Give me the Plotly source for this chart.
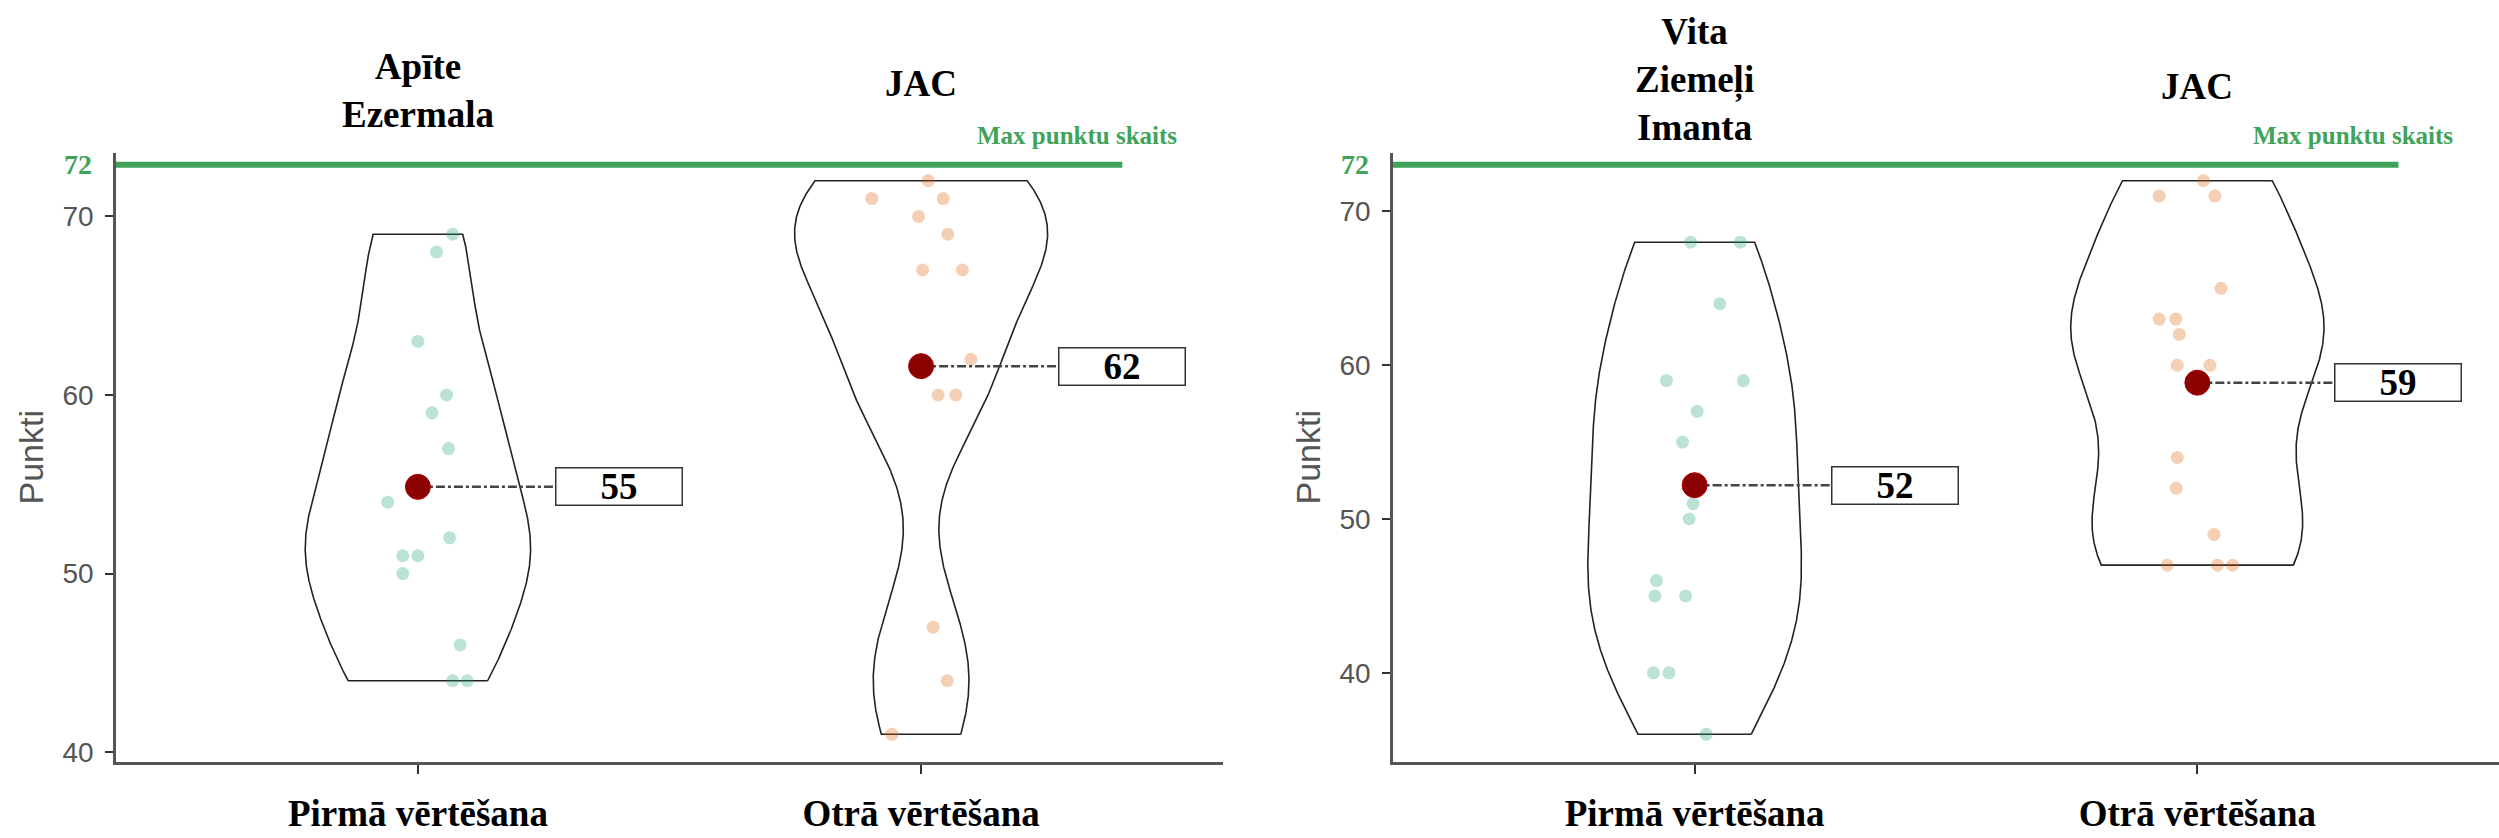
import numpy as np
import plotly.graph_objects as go

# ---------------- data ----------------
CATEGORIES = ["Pirmā vērtēšana", "Otrā vērtēšana"]
LEFT_TITLES = ["Apīte<br>Ezermala", "JAC"]
RIGHT_TITLES = ["Vita<br>Ziemeļi<br>Imanta", "JAC"]
MAX_SCORE = 72
MAX_LABEL = "Max punktu skaits"
Y_TITLE = "Punkti"
Y_TICKS = [40, 50, 60, 70]

APITE_SCORES = [69, 68, 63, 60, 59, 57, 54, 52, 51, 51, 50, 46, 44, 44]
APITE_JITTER = [0.069, 0.037, 0.0, 0.057, 0.028, 0.061, -0.060, 0.063, -0.030, 0.0, -0.030, 0.084, 0.069, 0.098]
JAC1_SCORES = [72, 71, 71, 70, 69, 67, 67, 62, 60, 60, 47, 44, 41]
JAC1_JITTER = [0.014, -0.098, 0.044, -0.005, 0.053, 0.003, 0.082, 0.099, 0.034, 0.069, 0.024, 0.052, -0.058]
VITA_SCORES = [68, 68, 64, 59, 59, 57, 55, 51, 50, 46, 45, 45, 40, 40, 36]
VITA_JITTER = [-0.008, 0.091, 0.050, -0.056, 0.097, 0.005, -0.024, -0.003, -0.011, -0.076, -0.079, -0.018, -0.082, -0.051, 0.023]
JAC2_SCORES = [72, 71, 71, 65, 63, 63, 62, 60, 60, 54, 52, 49, 47, 47, 47]
JAC2_JITTER = [0.012, -0.076, 0.035, 0.047, -0.076, -0.043, -0.036, -0.040, 0.025, -0.040, -0.042, 0.033, -0.060, 0.040, 0.070]

# ---------------- styles ----------------
W, H = 2499, 838
PT_COLORS = ["rgba(27,158,119,0.30)", "rgba(217,95,2,0.30)"]
GREEN = "#3fa35a"
MEAN_COLOR = "#8b0000"
SERIF = "Liberation Serif"
SANS = "Liberation Sans"
AXIS_GREY = "#555555"
VIOLIN_WIDTHS = {"L": [0.448, 0.503], "R": [0.425, 0.504]}
LINE_OFFSET_PX = 16          # max-score line drawn slightly above its tick value
LABEL_LINE_END = 0.273       # end of dash-dot connector (category units)
LABEL_CENTER = 0.399         # centre of value box (category units)

# panel geometry (pixels)
PLOT_TOP, PLOT_BOTTOM = 153, 762
PANELS = {
    "L": dict(x0=116, x1=1223, xa="x", ya="y",
              groups=[(APITE_SCORES, APITE_JITTER), (JAC1_SCORES, JAC1_JITTER)],
              titles=LEFT_TITLES, title_y=[90, 84]),
    "R": dict(x0=1393, x1=2499, xa="x2", ya="y2",
              groups=[(VITA_SCORES, VITA_JITTER), (JAC2_SCORES, JAC2_JITTER)],
              titles=RIGHT_TITLES, title_y=[80, 86]),
}


def nrd0(x):
    x = np.asarray(x, float)
    sd = x.std(ddof=1)
    q75, q25 = np.percentile(x, [75, 25])
    lo = min(sd, (q75 - q25) / 1.34)
    if lo <= 0:
        lo = sd
    return 0.9 * lo * len(x) ** (-0.2)


def violin_path(vals, center, width):
    """Gaussian KDE (bw.nrd0), trimmed to the data range, like ggplot's geom_violin."""
    vals = np.asarray(vals, float)
    bw = nrd0(vals)
    grid = np.linspace(vals.min(), vals.max(), 512)
    dens = np.exp(-0.5 * ((grid[:, None] - vals[None, :]) / bw) ** 2).sum(axis=1)
    half = dens / dens.max() * width / 2
    xs = np.concatenate([center + half, (center - half)[::-1], [center + half[0]]])
    ys = np.concatenate([grid, grid[::-1], [grid[0]]])
    return xs, ys


fig = go.Figure()
annotations = []
shapes = []

for key, p in PANELS.items():
    xa, ya = p["xa"], p["ya"]
    for i, (scores, jit) in enumerate(p["groups"]):
        scores = np.asarray(scores, float)
        vx, vy = violin_path(scores, i, VIOLIN_WIDTHS[key][i])
        fig.add_trace(go.Scatter(
            x=vx, y=vy, xaxis=xa, yaxis=ya, mode="lines",
            line=dict(color="#222222", width=1.6), fill="toself",
            fillcolor="rgba(0,0,0,0)", hoverinfo="skip", showlegend=False))
        fig.add_trace(go.Scatter(
            x=[i + j for j in jit], y=scores, xaxis=xa, yaxis=ya, mode="markers",
            marker=dict(size=13, color=PT_COLORS[i], line=dict(width=0)),
            hoverinfo="skip", showlegend=False))
        m = float(scores.mean())
        fig.add_trace(go.Scatter(
            x=[i, i + LABEL_LINE_END], y=[m, m], xaxis=xa, yaxis=ya, mode="lines",
            line=dict(color="#444444", width=2.5, dash="dashdot"),
            hoverinfo="skip", showlegend=False))
        fig.add_trace(go.Scatter(
            x=[i], y=[m], xaxis=xa, yaxis=ya, mode="markers",
            marker=dict(size=25, color=MEAN_COLOR, line=dict(color="#b00000", width=1)),
            hoverinfo="skip", showlegend=False))
        annotations.append(dict(
            x=i + LABEL_CENTER, y=m, xref=xa, yref=ya, text="<b>%d</b>" % int(round(m)),
            showarrow=False, font=dict(family=SERIF, size=37, color="black"),
            bordercolor="#333333", borderwidth=1.5, bgcolor="white",
            width=125, height=36, borderpad=0, xanchor="center", yanchor="middle"))
        annotations.append(dict(
            x=i, y=1 - p["title_y"][i] / H, xref=xa, yref="paper",
            text="<b>%s</b>" % p["titles"][i], showarrow=False,
            font=dict(family=SERIF, size=37, color="black"),
            xanchor="center", yanchor="middle"))

    # max-score line + labels
    shapes.append(dict(type="line", xref=xa, yref=ya, x0=-0.6, x1=1.4,
                       ysizemode="pixel", yanchor=MAX_SCORE,
                       y0=LINE_OFFSET_PX, y1=LINE_OFFSET_PX,
                       line=dict(color=GREEN, width=6), layer="above"))
    annotations.append(dict(x=0, xref=xa + " domain", y=MAX_SCORE, yref=ya,
                            xshift=-38, yshift=LINE_OFFSET_PX,
                            text="<b>%d</b>" % MAX_SCORE, showarrow=False,
                            font=dict(family=SERIF, size=28, color=GREEN),
                            xanchor="center", yanchor="middle"))
    annotations.append(dict(x=1.31, xref=xa, y=MAX_SCORE, yref=ya,
                            yshift=LINE_OFFSET_PX + 29,
                            text="<b>%s</b>" % MAX_LABEL, showarrow=False,
                            font=dict(family=SERIF, size=25, color=GREEN),
                            xanchor="center", yanchor="middle"))
    annotations.append(dict(x=(p["x0"] - 86) / W, xref="paper",
                            y=1 - (PLOT_TOP + PLOT_BOTTOM) / 2 / H, yref="paper",
                            text=Y_TITLE, textangle=-90, showarrow=False,
                            font=dict(family=SANS, size=34, color=AXIS_GREY),
                            xanchor="center", yanchor="middle"))

layout = dict(width=W, height=H, margin=dict(l=0, r=0, t=0, b=0),
              paper_bgcolor="white", plot_bgcolor="white", showlegend=False,
              annotations=annotations, shapes=shapes)

ydom = [1 - PLOT_BOTTOM / H, 1 - PLOT_TOP / H]
for key, p in PANELS.items():
    allv = np.concatenate([np.asarray(g[0], float) for g in p["groups"]])
    lo, hi = allv.min(), allv.max()
    pad = 0.05 * (hi - lo)
    xname = "xaxis" if p["xa"] == "x" else "xaxis2"
    yname = "yaxis" if p["ya"] == "y" else "yaxis2"
    layout[xname] = dict(domain=[p["x0"] / W, p["x1"] / W], range=[-0.6, 1.6],
                         anchor=p["ya"], tickvals=[0, 1],
                         ticktext=["<b>%s</b>" % c for c in CATEGORIES],
                         tickfont=dict(family=SERIF, size=37, color="black"),
                         showline=True, linecolor=AXIS_GREY, linewidth=3,
                         ticks="outside", ticklen=9, tickwidth=2, tickcolor="#333333",
                         ticklabelstandoff=8,
                         showgrid=False, zeroline=False, automargin=False)
    layout[yname] = dict(domain=ydom, range=[lo - pad, hi + pad], anchor=p["xa"],
                         tickvals=Y_TICKS, tickfont=dict(family=SANS, size=28, color=AXIS_GREY),
                         showline=True, linecolor=AXIS_GREY, linewidth=2.5,
                         ticks="outside", ticklen=8, tickwidth=2, tickcolor="#333333",
                         ticklabelstandoff=6,
                         showgrid=False, zeroline=False, automargin=False)

fig.update_layout(**layout)
fig.write_html("out.html", config={"displayModeBar": False},
               post_script="document.body.style.margin='0';document.body.style.overflow='hidden';")
